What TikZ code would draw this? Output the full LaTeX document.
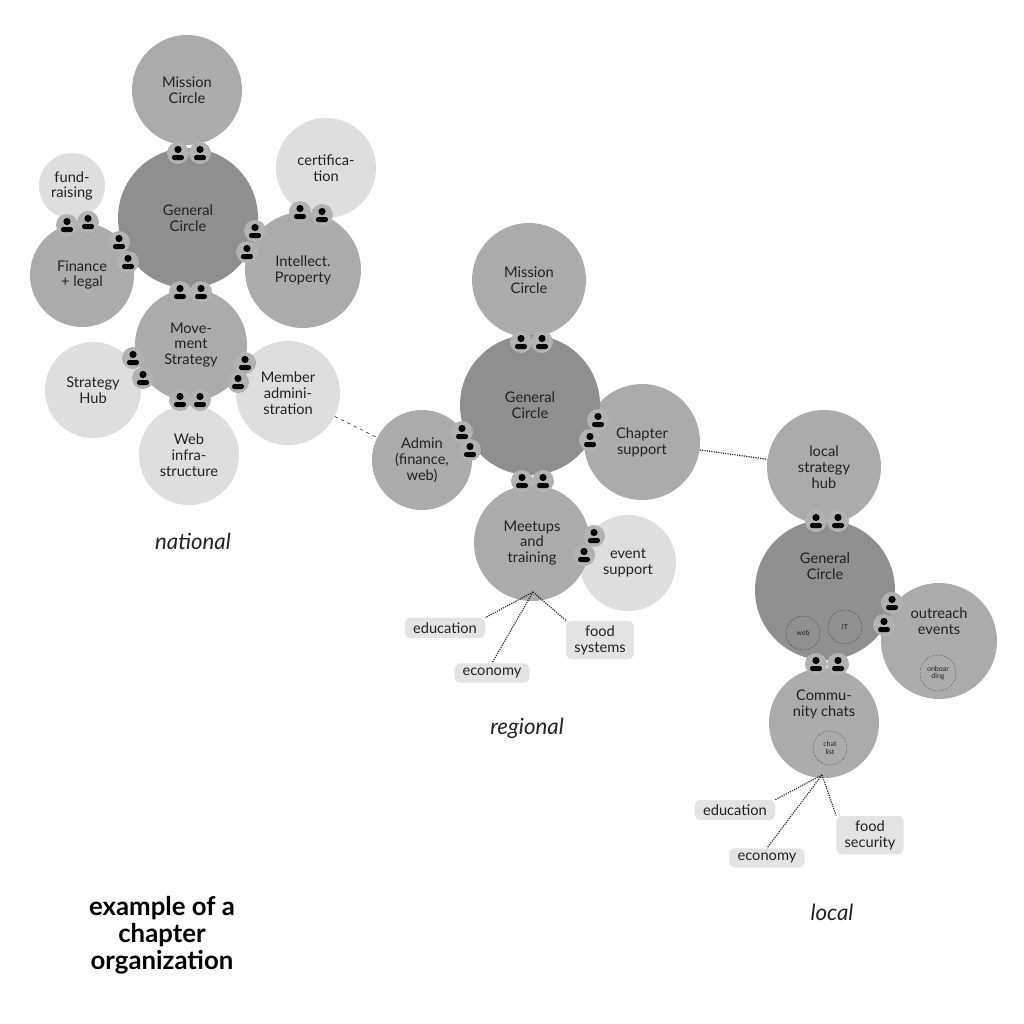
\documentclass[tikz,border=0pt]{standalone}
\usepackage{fontspec}
\setmainfont{Lato}
\definecolor{dark}{HTML}{8F8F8F}
\definecolor{mid}{HTML}{ABABAB}
\definecolor{light}{HTML}{DEDEDE}
\definecolor{boxc}{HTML}{E3E3E3}
\definecolor{ink}{HTML}{222222}
\tikzset{
  bub/.style={circle,inner sep=0,minimum size=#1*0.06cm,align=center,text=ink,
    font=\fontsize{12.5}{13.5}\selectfont},
  gc/.style={bub=#1,fill=dark},
  md/.style={bub=#1,fill=mid},
  lt/.style={bub=#1,fill=light},
  tag/.style={fill=boxc,rounded corners=5pt,align=center,text=ink,inner xsep=7pt,
    inner ysep=4pt,font=\fontsize{12.5}{13.5}\selectfont},
  sub/.style={circle,draw=ink,densely dotted,thin,inner sep=0,minimum size=#1*0.06cm,
    align=center,font=\fontsize{6}{6.5}\selectfont,text=ink},
  lvl/.style={font=\fontsize{19}{20}\selectfont\itshape,text=ink},
  fan/.style={densely dotted,line width=1pt,ink}
}
\newcommand\usr[2]{%
  \begin{scope}[shift={(#1,#2)}]
    \fill[gray!60] (0,0) circle (11);
    \fill[black] (0,-3.5) circle (3.6);
    \fill[black,rounded corners=2pt] (-6,7) -- (-6,2) -- (6,2) -- (6,7) -- cycle;
  \end{scope}}

\begin{document}
\begin{tikzpicture}[x=0.03cm,y=-0.03cm]
\useasboundingbox (0,0) rectangle (1024,1024);

% national
\node (nmis) [md=55] at (187,90) {Mission\\Circle};
\node (nfund) [lt=33] at (72,186) {fund-\\raising};
\node (nfin) [md=52] at (82,275) {Finance\\+ legal};
\node (ncert) [lt=50] at (326,168) {certifica-\\tion};
\node (nip) [md=58] at (303,270) {Intellect.\\Property};
\node (nhub) [lt=48] at (93,390) {Strategy\\Hub};
\node (nweb) [lt=50] at (189,455) {Web\\infra-\\structure};
\node (nmem) [lt=52] at (288,393) {Member\\admini-\\stration};
\node (nmov) [md=56] at (191,345) {Move-\\ment\\Strategy};
\node (ngc) [gc=70] at (188,218) {General\\Circle};

% regional
\node (rmis) [md=57] at (529,280) {Mission\\Circle};
\node (radm) [md=50] at (422,460) {Admin\\(finance,\\web)};
\node (rchap) [md=58] at (642,442) {Chapter\\support};
\node (revt) [lt=48] at (628,563) {event\\support};
\node (rmeet) [md=58] at (532,543) {Meetups\\and\\training};
\node (rgc) [gc=70] at (530,405) {General\\Circle};

% local
\node (lhub) [md=57] at (824,467) {local\\strategy\\hub};
\node (lout) [md=58] at (939,641) {outreach\\events\\[20pt]};
\node (lcom) [md=55] at (824,723) {Commu-\\nity chats\\[20pt]};
\node (lgc) [gc=70] at (825,590) {General\\Circle\\[28pt]};
\node (lweb) [sub=17] at (803,633) {web};
\node (lit) [sub=17] at (845,627) {IT};
\node (lonb) [sub=18] at (938,673) {onboar\\ding};
\node (lchat) [sub=17] at (830,748) {chat\\list};

% people
\foreach \x/\y in {178/153,200/153,67/225,88/222,119/242,128/262,300/212,322/215,
  255/231,247/252,180/292,201/292,133/358,143/378,245/363,238/382,180/400,200/400,
  521/342,542/342,462/432,470/450,598/420,590/440,522/481,543/481,594/536,584/555,
  816/521,838/521,892/603,884/625,816/664,838/664}
  {\usr{\x}{\y}}

% links
\draw[dashed,ink,thin] (nmem) -- (radm);
\draw[densely dotted,ink,line width=1pt] (rchap) -- (lhub);

% topics
\node (redu) [tag] at (445,628) {education};
\node (reco) [tag] at (492,673) {economy};
\node (rfood) [tag] at (600,640) {food\\systems};
\coordinate (rroot) at (533,592);
\draw[fan] (rroot) -- (redu.north east);
\draw[fan] (rroot) -- (reco.north);
\draw[fan] (rroot) -- (rfood.north west);

\node (ledu) [tag] at (735,810) {education};
\node (leco) [tag] at (767,858) {economy};
\node (lfood) [tag] at (870,835) {food\\security};
\coordinate (lroot) at (822,775);
\draw[fan] (lroot) -- (ledu.north east);
\draw[fan] (lroot) -- (leco.north);
\draw[fan] (lroot) -- (lfood.north west);

% labels
\node (tnat) [lvl] at (193,541) {national};
\node (treg) [lvl] at (527,728) {regional};
\node (tloc) [lvl] at (832,912) {local};
\node (ttl) [align=center,font=\fontsize{22}{23}\selectfont\bfseries] at (162,935)
  {example of a\\chapter\\organization};
\end{tikzpicture}
\end{document}
